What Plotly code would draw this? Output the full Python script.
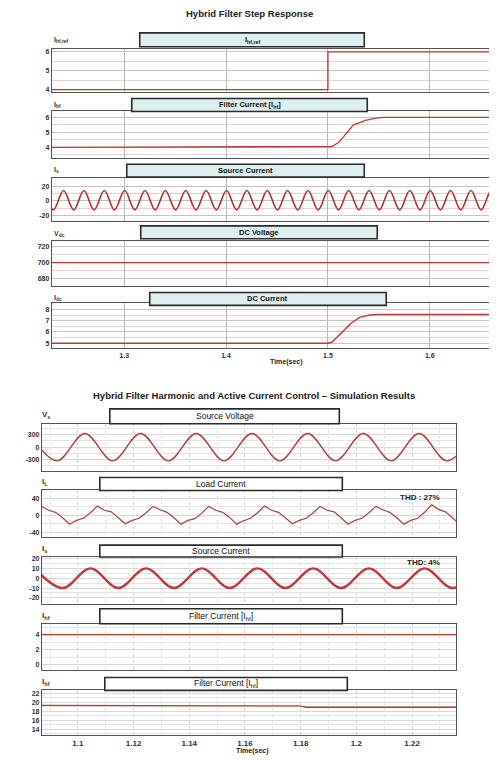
import plotly.graph_objects as go

# ================= DATA =================
# --- Top figure: Hybrid Filter Step Response (time in s) ---
step_xticks = [1.3, 1.4, 1.5, 1.6]
step_xlabels = ["1.3", "1.4", "1.5", "1.6"]

ihf_ref_t = [1.229, 1.5, 1.5, 1.665]
ihf_ref_v = [4, 4, 6, 6]

ihf_step_t = [1.229, 1.5, 1.504, 1.511, 1.518, 1.525, 1.537, 1.547, 1.555, 1.665]
ihf_step_v = [4, 4, 4.05, 4.35, 4.95, 5.5, 5.8, 5.95, 6.0, 6.0]

# source current, sampled at every half cycle (peaks / troughs), 50 Hz
is_step_t0 = 1.2204
is_step_dt = 0.01
is_step_v = [14, -12, 14, -12, 14, -12, 14, -12, 14, -12,
             14, -12, 14, -12, 14, -12, 14, -12, 14, -12,
             14, -12, 14, -12, 14, -12, 14, -12, 14, -12,
             14, -12, 14, -12, 14, -12, 14, -12, 14, -12,
             14, -12, 14, -12, 14, -12]

vdc_t = [1.229, 1.665]
vdc_v = [700, 700]

idc_t = [1.229, 1.5, 1.504, 1.514, 1.523, 1.531, 1.541, 1.55, 1.665]
idc_v = [5, 5, 5.1, 6.0, 6.8, 7.3, 7.5, 7.55, 7.55]

# --- Bottom figure: Harmonic and Active Current Control ---
sim_xticks = [1.1, 1.12, 1.14, 1.16, 1.18, 1.2, 1.22]
sim_xlabels = ["1.1", "1.12", "1.14", "1.16", "1.18", "1.2", "1.22"]

vs_t0 = 1.0825
vs_dt = 0.01
vs_v = [330, -330, 330, -330, 330, -330, 330, -330, 330,
        -330, 330, -330, 330, -330, 330, -330, 330]

il_t0 = 1.0820
il_dt = 0.0025
il_v = [-7, 6,
        21, 12, 7, -6, -21, -12, -7, 6,
        22, 12, 8, -6, -20, -12, -7, 6,
        21, 13, 7, -6, -21, -12, -8, 5,
        21, 12, 7, -5, -21, -13, -7, 6,
        22, 12, 7, -6, -20, -12, -7, 6,
        21, 12, 8, -6, -21, -12, -7, 6,
        21, 13, 7, -6, -21, -12, -7, 7,
        25, 14, 8, -6, -21]

is_sim_t0 = 1.0845
is_sim_dt = 0.01
is_sim_v = [10, -10, 10, -10, 10, -10, 10, -10, 10,
            -10, 10, -10, 10, -10, 10, -10, 10]

ihf_sim_t = [1.087, 1.236]
ihf_sim_v = [4, 4]

ihf2_t = [1.087, 1.155, 1.1795, 1.182, 1.236]
ihf2_v = [19.3, 19.25, 19.2, 18.9, 18.9]

thd_load = "THD : 27%"
thd_source = "THD: 4%"

# ================= LAYOUT =================
OFF = 8                    # page body margin of the html page
W, H = 497 - OFF, 760 - OFF
FONT = "Liberation Sans, Arial, sans-serif"
RED = "#c0392f"


def yp(px):
    return 1 - (px - OFF) / H


def xp(px):
    return (px - OFF) / W


def grid(t0, dt, n):
    return [t0 + i * dt for i in range(n)]


top_x = dict(px=(52, 497), rng=[1.229, 1.665], tv=step_xticks, tt=step_xlabels)
bot_x = dict(px=(42, 457), rng=[1.0871, 1.2358], tv=sim_xticks, tt=sim_xlabels)

panels = [
    # top figure
    dict(fig=top_x, y=(47, 90), rng=[3.9, 6.16], tv=[4, 5, 6], minor=0.5, last=False),
    dict(fig=top_x, y=(110, 157), rng=[3.27, 6.4], tv=[4, 5, 6], minor=0.5, last=False),
    dict(fig=top_x, y=(177, 220), rng=[-26.7, 30.7], tv=[-20, 0, 20], minor=10, last=False),
    dict(fig=top_x, y=(240, 285), rng=[671, 727.5], tv=[680, 700, 720], minor=10, last=False),
    dict(fig=top_x, y=(303, 348), rng=[4.56, 8.53], tv=[5, 6, 7, 8], minor=0.5, last=True),
    # bottom figure
    dict(fig=bot_x, y=(424, 471), rng=[-564, 564], tv=[-300, 0, 300], minor=150, last=False),
    dict(fig=bot_x, y=(491, 538), rng=[-51.8, 58.8], tv=[-40, 0, 40], minor=20, last=False),
    dict(fig=bot_x, y=(558, 605), rng=[-26, 21.5], tv=[-20, -10, 0, 10, 20], minor=5, last=False),
    dict(fig=bot_x, y=(625, 672), rng=[-0.8, 5.47], tv=[0, 2, 4], minor=1, last=False),
    dict(fig=bot_x, y=(692, 737), rng=[12.67, 22.67], tv=[14, 16, 18, 20, 22], minor=1, last=True),
]

series = [
    (ihf_ref_t, ihf_ref_v, "linear", 1.3, RED),
    (ihf_step_t, ihf_step_v, "linear", 1.3, RED),
    (grid(is_step_t0, is_step_dt, len(is_step_v)), is_step_v, "spline", 1.6, "#b0302c"),
    (vdc_t, vdc_v, "linear", 1.3, RED),
    (idc_t, idc_v, "linear", 1.4, RED),
    (grid(vs_t0, vs_dt, len(vs_v)), vs_v, "spline", 1.4, "#b0403a"),
    (grid(il_t0, il_dt, len(il_v)), il_v, "linear", 1.2, "#b0403a"),
    (grid(is_sim_t0, is_sim_dt, len(is_sim_v)), is_sim_v, "spline", 2.4, "#c0393a"),
    (ihf_sim_t, ihf_sim_v, "linear", 1.3, RED),
    (ihf2_t, ihf2_v, "linear", 1.3, RED),
]

fig = go.Figure()
layout = dict(
    width=W, height=H, autosize=False,
    margin=dict(l=0, r=0, t=0, b=0),
    paper_bgcolor="white", plot_bgcolor="white",
    showlegend=False,
    font=dict(family=FONT, color="#222", size=8),
)

for i, (p, s) in enumerate(zip(panels, series), start=1):
    xa = "x" if i == 1 else f"x{i}"
    ya = "y" if i == 1 else f"y{i}"
    fx = p["fig"]
    top_fig = fx is top_x
    fig.add_trace(go.Scatter(
        x=s[0], y=s[1], mode="lines", xaxis=xa, yaxis=ya,
        line=dict(color=s[4], width=s[3], shape=s[2]),
        hoverinfo="skip",
    ))
    xax = dict(
        domain=[xp(fx["px"][0]), min(1.0, xp(fx["px"][1]))],
        range=fx["rng"], anchor=ya,
        tickmode="array", tickvals=fx["tv"],
        ticktext=[f"<b>{t}</b>" for t in fx["tt"]],
        showticklabels=p["last"],
        tickfont=dict(size=7 if top_fig else 8, color="#333", family=FONT),
        ticks="", showgrid=True,
        gridcolor="#b8b8b8" if top_fig else "#d6d6d6",
        griddash="solid" if top_fig else "dot",
        gridwidth=1,
        showline=True, mirror=True, linecolor="#555", linewidth=1.2,
        zeroline=False, fixedrange=True,
    )
    if not top_fig:
        xax["minor"] = dict(showgrid=True, dtick=0.01, gridcolor="#e2e2e2", griddash="dot")
    layout["xaxis" if i == 1 else f"xaxis{i}"] = xax
    layout["yaxis" if i == 1 else f"yaxis{i}"] = dict(
        domain=[yp(p["y"][1]), yp(p["y"][0])],
        range=p["rng"], anchor=xa,
        tickmode="array", tickvals=p["tv"],
        ticktext=[f"<b>{t}</b>" for t in p["tv"]],
        tickfont=dict(size=7, color="#333", family=FONT),
        ticks="", showgrid=True,
        gridcolor="#c4c4c4" if top_fig else "#d8d8d8",
        minor=dict(showgrid=True, dtick=p["minor"],
                   gridcolor="#e6d2d2" if top_fig else "#e4e4e4"),
        showline=True, mirror=True, linecolor="#555", linewidth=1.2,
        zeroline=False, fixedrange=True,
    )

# label boxes
boxes = [
    ((140, 31, 365, 45), "<b>I<sub>hf,ref</sub></b>", True),
    ((132, 97, 368, 110), "<b>Filter Current [I<sub>hf</sub>]</b>", True),
    ((127, 163, 365, 176), "<b>Source Current</b>", True),
    ((141, 225, 378, 238), "<b>DC Voltage</b>", True),
    ((150, 292, 387, 305), "<b>DC Current</b>", True),
    ((110, 409, 340, 424), "Source Voltage", False),
    ((100, 478, 343, 491), "Load Current", False),
    ((100, 546, 343, 558), "Source Current", False),
    ((100, 610, 343, 625), "Filter Current [I<sub>hf</sub>]", False),
    ((105, 679, 348, 692), "Filter Current [I<sub>hf</sub>]", False),
]
shapes = []
annotations = []
for (x0, y0, x1, y1), txt, top in boxes:
    shapes.append(dict(
        type="rect", xref="paper", yref="paper",
        x0=xp(x0), x1=xp(x1), y0=yp(y1), y1=yp(y0),
        fillcolor="#ddefee" if top else "white",
        line=dict(color="#2a2a2a", width=1.6),
        layer="above",
    ))
    annotations.append(dict(
        xref="paper", yref="paper", x=xp((x0 + x1) / 2), y=yp((y0 + y1) / 2),
        text=txt, showarrow=False, xanchor="center", yanchor="middle",
        font=dict(size=7.5 if top else 8.5, color="#111", family=FONT),
    ))

side_labels = [
    (52, 38, "I<sub>hf,ref</sub>", 7),
    (52, 104, "I<sub>hf</sub>", 7),
    (52, 169, "I<sub>s</sub>", 7),
    (52, 233, "V<sub>dc</sub>", 7),
    (52, 298, "I<sub>dc</sub>", 7),
    (40, 415, "V<sub>s</sub>", 8),
    (40, 483, "I<sub>L</sub>", 8),
    (40, 550, "I<sub>s</sub>", 8),
    (40, 617, "I<sub>hf</sub>", 8),
    (40, 684, "I<sub>hf</sub>", 8),
]
for x, y, txt, sz in side_labels:
    annotations.append(dict(
        xref="paper", yref="paper", x=xp(x), y=yp(y), text=f"<b>{txt}</b>",
        showarrow=False, xanchor="left", yanchor="middle",
        font=dict(size=sz, color="#333", family=FONT),
    ))

texts = [
    (250, 12, "<b>Hybrid Filter Step Response</b>", 9.5, "center"),
    (287, 362, "<b>Time(sec)</b>", 7, "center"),
    (255, 396, "<b>Hybrid Filter Harmonic and Active Current Control \u2013 Simulation Results</b>", 9.5, "center"),
    (253, 753, "<b>Time(sec)</b>", 7, "center"),
    (443, 498, f"<b>{thd_load}</b>", 8, "right"),
    (443, 563, f"<b>{thd_source}</b>", 8, "right"),
]
for x, y, txt, sz, anc in texts:
    annotations.append(dict(
        xref="paper", yref="paper", x=xp(x), y=yp(y), text=txt,
        showarrow=False, xanchor=anc, yanchor="middle",
        font=dict(size=sz, color="#222", family=FONT),
    ))

layout["shapes"] = shapes
layout["annotations"] = annotations
fig.update_layout(**layout)
fig.write_html("out.html")
